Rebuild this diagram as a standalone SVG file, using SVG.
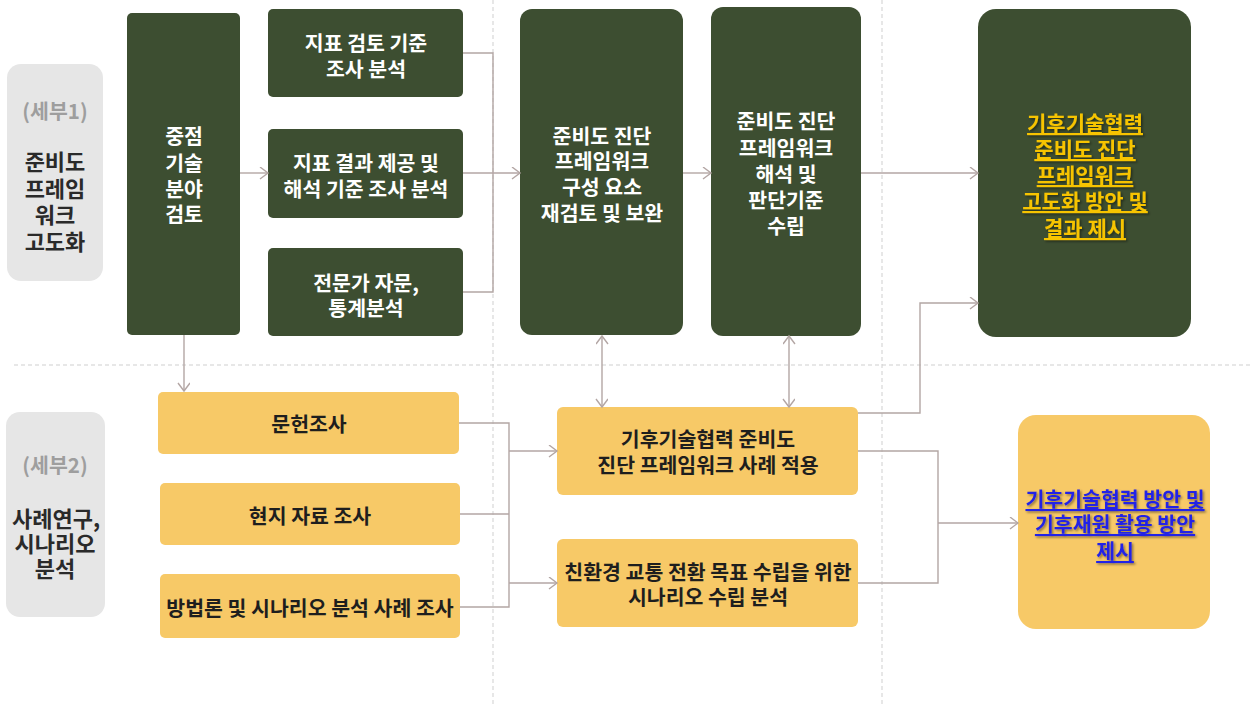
<svg xmlns="http://www.w3.org/2000/svg" width="1252" height="704" viewBox="0 0 1252 704">
<style>
text{font-family:"Noto Sans CJK KR","Noto Sans",sans-serif;font-weight:700;text-anchor:middle;dominant-baseline:central;font-size:20.5px}
.g{fill:#3d4e31}
.y{fill:#f7c967}
.side{fill:#e6e6e6}
.wt{fill:#ffffff}
.dt{fill:#1e1e1e}
.st{fill:#9e9e9e}
.sd{fill:#2a2a2a;font-size:22px}
.guide{stroke:#cfcfcf;stroke-width:1;stroke-dasharray:4 3;fill:none}
.c{stroke:#b3a6a4;stroke-width:1.4;fill:none}
.a{marker-end:url(#arr)}
.b{marker-start:url(#arr);marker-end:url(#arr)}
.gold{fill:#f7c400;text-decoration:underline;filter:url(#sh);font-size:21px}
.blue{fill:#2323e6;text-decoration:underline;filter:url(#sh)}
</style>
<defs>
<marker id="arr" markerUnits="userSpaceOnUse" markerWidth="12" markerHeight="14" refX="9" refY="6" orient="auto-start-reverse">
<path d="M1,0 L9,6 L1,12" fill="none" stroke="#b3a6a4" stroke-width="1.4"/>
</marker>
<filter id="sh" x="-10%" y="-20%" width="120%" height="150%">
<feDropShadow dx="1.5" dy="1.5" stdDeviation="1" flood-color="#000" flood-opacity="0.45"/>
</filter>
</defs>
<g id="guides">
<path class="guide" d="M493,0 V704 M882,0 V704 M14,365 H1250"/>
</g>
<g id="side1"><rect class="side" x="7" y="64" width="96" height="217" rx="14"/>
<text class="st" x="55" y="110">(세부1)</text>
<text class="sd"><tspan x="55" y="160">준비도</tspan><tspan x="55" y="187">프레임</tspan><tspan x="55" y="213">워크</tspan><tspan x="55" y="240">고도화</tspan></text></g>
<g id="side2"><rect class="side" x="6" y="412" width="99" height="205" rx="14"/>
<text class="st" x="55" y="464">(세부2)</text>
<text class="sd"><tspan x="56" y="517">사례연구,</tspan><tspan x="55" y="542">시나리오</tspan><tspan x="55" y="567">분석</tspan></text></g>
<g id="n_core"><rect class="g" x="127" y="13" width="113" height="322" rx="5"/>
<text class="wt"><tspan x="184" y="135">중점</tspan><tspan x="184" y="162">기술</tspan><tspan x="184" y="188">분야</tspan><tspan x="184" y="213">검토</tspan></text></g>
<g id="n_ind1"><rect class="g" x="268" y="9" width="195" height="88" rx="5"/>
<text class="wt"><tspan x="366" y="42">지표 검토 기준</tspan><tspan x="366" y="68">조사 분석</tspan></text></g>
<g id="n_ind2"><rect class="g" x="268" y="129" width="195" height="89" rx="5"/>
<text class="wt"><tspan x="366" y="162">지표 결과 제공 및</tspan><tspan x="366" y="188">해석 기준 조사 분석</tspan></text></g>
<g id="n_expert"><rect class="g" x="268" y="248" width="195" height="88" rx="5"/>
<text class="wt"><tspan x="366" y="282">전문가 자문,</tspan><tspan x="366" y="307">통계분석</tspan></text></g>
<g id="n_review"><rect class="g" x="520" y="9" width="163" height="326" rx="12"/>
<text class="wt"><tspan x="602" y="135">준비도 진단</tspan><tspan x="602" y="160">프레임워크</tspan><tspan x="602" y="186">구성 요소</tspan><tspan x="602" y="212">재검토 및 보완</tspan></text></g>
<g id="n_interp"><rect class="g" x="711" y="7" width="150" height="329" rx="12"/>
<text class="wt"><tspan x="786" y="120">준비도 진단</tspan><tspan x="786" y="147">프레임워크</tspan><tspan x="786" y="173">해석 및</tspan><tspan x="786" y="199">판단기준</tspan><tspan x="786" y="225">수립</tspan></text></g>
<g id="n_result1"><rect class="g" x="978" y="9" width="213" height="328" rx="18"/>
<text class="gold"><tspan x="1085" y="122">기후기술협력</tspan><tspan x="1085" y="148">준비도 진단</tspan><tspan x="1085" y="174">프레임워크</tspan><tspan x="1085" y="200">고도화 방안 및</tspan><tspan x="1085" y="227">결과 제시</tspan></text></g>
<g id="n_lit"><rect class="y" x="158" y="392" width="301" height="62" rx="5"/>
<text class="dt" x="309" y="423">문헌조사</text></g>
<g id="n_field"><rect class="y" x="160" y="483" width="300" height="62" rx="5"/>
<text class="dt" x="310" y="515">현지 자료 조사</text></g>
<g id="n_method"><rect class="y" x="160" y="574" width="300" height="64" rx="5"/>
<text class="dt" x="310" y="607">방법론 및 시나리오 분석 사례 조사</text></g>
<g id="n_case"><rect class="y" x="557" y="407" width="301" height="88" rx="6"/>
<text class="dt"><tspan x="708" y="438">기후기술협력 준비도</tspan><tspan x="708" y="464">진단 프레임워크 사례 적용</tspan></text></g>
<g id="n_scen"><rect class="y" x="557" y="539" width="301" height="88" rx="6"/>
<text class="dt"><tspan x="708" y="571">친환경 교통 전환 목표 수립을 위한</tspan><tspan x="708" y="596">시나리오 수립 분석</tspan></text></g>
<g id="n_result2"><rect class="y" x="1018" y="415" width="192" height="214" rx="18"/>
<text class="blue"><tspan x="1115" y="498">기후기술협력 방안 및</tspan><tspan x="1115" y="523">기후재원 활용 방안</tspan><tspan x="1115" y="550">제시</tspan></text></g>
<g id="connectors">
<path class="c a" d="M240,173 H268"/>
<path class="c" d="M463,53 H493 V292 H463"/>
<path class="c a" d="M463,173 H520"/>
<path class="c a" d="M683,173 H711"/>
<path class="c a" d="M861,173 H978"/>
<path class="c a" d="M184,335 V391"/>
<path class="c" d="M459,423 H509 V607 H460"/>
<path class="c" d="M460,514 H509"/>
<path class="c a" d="M509,451 H557"/>
<path class="c a" d="M509,583 H557"/>
<path class="c b" d="M602,336 V407"/>
<path class="c b" d="M789,336 V407"/>
<path class="c a" d="M858,413 H920 V303 H978"/>
<path class="c" d="M858,451 H938 V583 H858"/>
<path class="c a" d="M938,523 H1018"/>
</g>
</svg>
